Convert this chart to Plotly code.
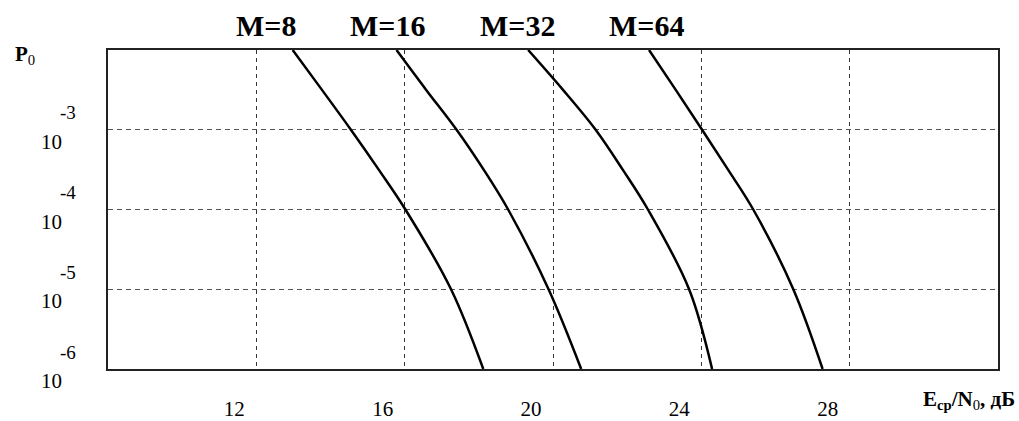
import math
import plotly.graph_objects as go

# ---- data ----
p0_levels = [1e-2, 10 ** -2.5, 1e-3, 10 ** -3.5, 1e-4, 1e-5, 1e-6]
m_labels = ["M=8", "M=16", "M=32", "M=64"]
ebno_m8 = [12.98, 13.77, 14.55, 15.30, 16.02, 17.25, 18.12]
ebno_m16 = [15.78, 16.58, 17.40, 18.13, 18.79, 19.88, 20.76]
ebno_m32 = [19.33, 20.27, 21.15, 21.88, 22.56, 23.67, 24.29]
ebno_m64 = [22.59, 23.31, 24.02, 24.72, 25.40, 26.48, 27.27]
x_ticks = [12, 16, 20, 24, 28]
y_ticks = [1e-3, 1e-4, 1e-5, 1e-6]
y_exponents = ["-3", "-4", "-5", "-6"]

# layout constants (not data)
label_x = [12.27, 15.55, 19.05, 22.52]
FONT = "Liberation Serif, Times New Roman, serif"
L, R, T, B = 108, 21, 50, 52
W, H = 1019, 421
PW = W - L - R


def px_to_paper(px):
    return (px - L) / PW


fig = go.Figure()
for xs in [ebno_m8, ebno_m16, ebno_m32, ebno_m64]:
    fig.add_trace(go.Scatter(
        x=xs, y=p0_levels, mode="lines",
        line=dict(color="black", width=2.5, shape="spline", smoothing=1.0),
        showlegend=False, hoverinfo="skip"))

annotations = []
for lbl, lx in zip(m_labels, label_x):
    annotations.append(dict(
        x=lx, y=1, xref="x", yref="paper", yanchor="middle", yshift=25,
        text=f"<b>{lbl}</b>", showarrow=False,
        font=dict(family=FONT, size=30, color="black")))

for v, e in zip(y_ticks, y_exponents):
    ly = math.log10(v)
    annotations.append(dict(
        x=px_to_paper(51), y=ly, xref="paper", yref="y", xanchor="center",
        yanchor="middle", yshift=-12, text="10", showarrow=False,
        font=dict(family=FONT, size=21, color="black")))
    annotations.append(dict(
        x=px_to_paper(68), y=ly, xref="paper", yref="y", xanchor="center",
        yanchor="middle", yshift=17, text=e, showarrow=False,
        font=dict(family=FONT, size=19, color="black")))

annotations.append(dict(
    x=px_to_paper(25), y=1, xref="paper", yref="paper", xanchor="center",
    yanchor="middle", yshift=-5,
    text="<b>P</b><sub>0</sub>", showarrow=False,
    font=dict(family=FONT, size=21, color="black")))

annotations.append(dict(
    x=px_to_paper(1017), y=0, xref="paper", yref="paper", xanchor="right",
    yanchor="middle", yshift=-(400 - (H - B)),
    text="<b>E</b><sub><b>ср</b></sub><b>/N</b><sub>0</sub><b>, дБ</b>",
    showarrow=False, font=dict(family=FONT, size=21, color="black")))

fig.update_layout(
    width=W, height=H,
    margin=dict(l=L, r=R, t=T, b=B, pad=0, autoexpand=False),
    paper_bgcolor="white", plot_bgcolor="white",
    font=dict(family=FONT, size=21, color="black"),
    annotations=annotations,
    xaxis=dict(
        range=[8, 32], tickvals=x_ticks, ticks="", automargin=False,
        ticklabelshift=-22, ticklabelstandoff=20,
        showgrid=True, gridcolor="#333", gridwidth=1, griddash="4px,4px",
        showline=True, linecolor="#222", linewidth=1.5, mirror=True,
        zeroline=False, tickfont=dict(family=FONT, size=21, color="black")),
    yaxis=dict(
        type="log", range=[-6, -2], tickvals=y_ticks, showticklabels=False,
        ticks="", showgrid=True, gridcolor="#555", gridwidth=1,
        griddash="5px,4px", automargin=False,
        showline=True, linecolor="#222", linewidth=1.5, mirror=True,
        zeroline=False),
)

fig.write_html("out.html", config={"displayModeBar": False})

# remove the default page margin so the figure fills the window exactly
with open("out.html", "r", encoding="utf-8") as f:
    html = f.read()
html = html.replace(
    "<head>",
    "<head><style>html,body{margin:0;padding:0;overflow:hidden;}</style>", 1)
with open("out.html", "w", encoding="utf-8") as f:
    f.write(html)
